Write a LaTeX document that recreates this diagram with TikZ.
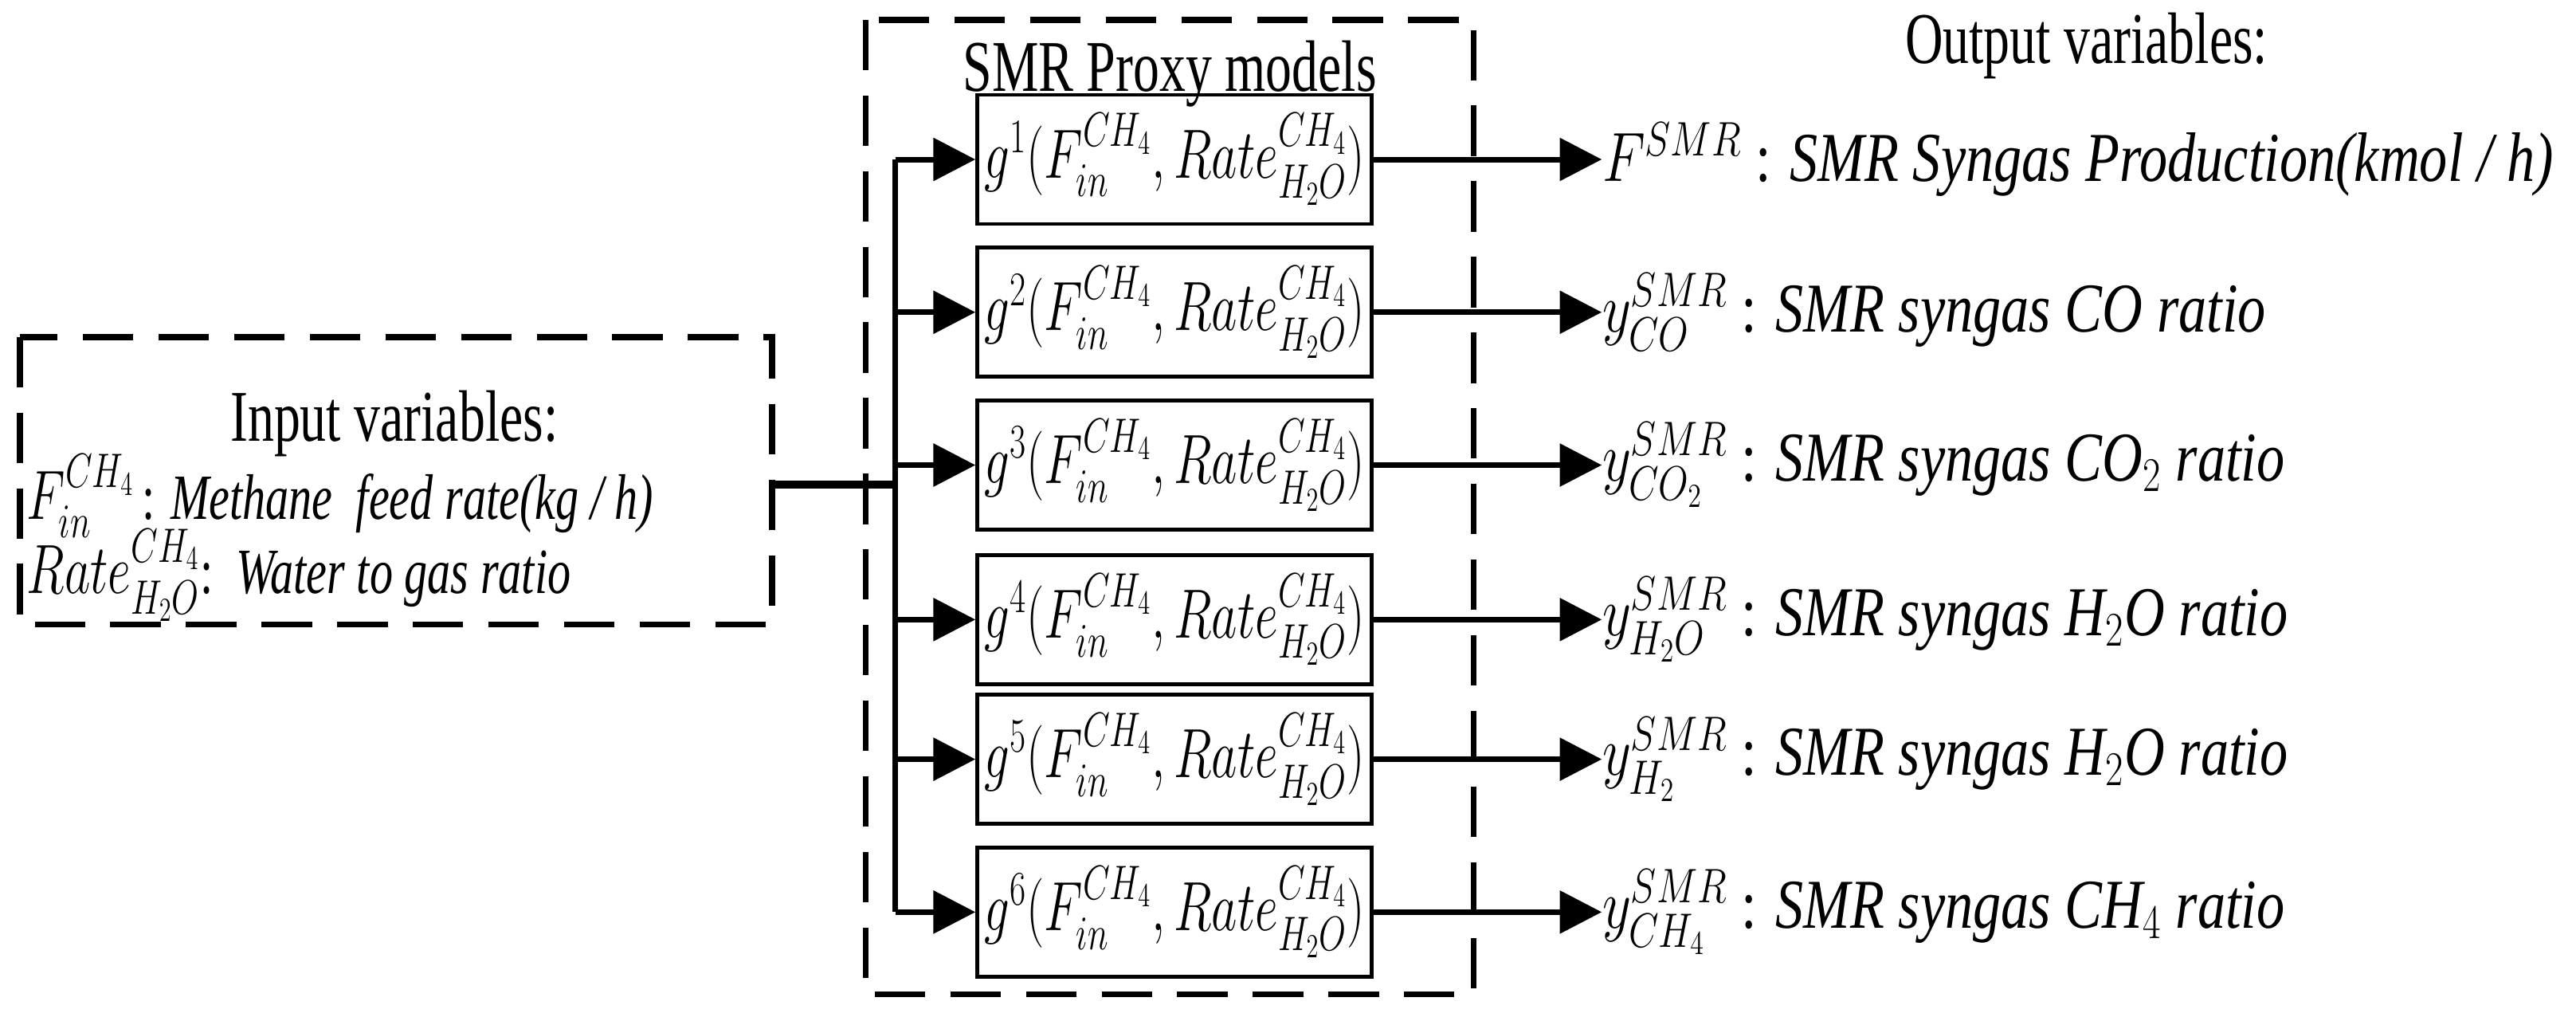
\documentclass[tikz,border=0pt]{standalone}
\usepackage{amsmath}
\usepackage{fontspec}
\setmainfont{Liberation Serif}
\usepackage{tikz}
\usetikzlibrary{arrows.meta}
\newcommand{\nar}[1]{\scalebox{0.72}[1]{#1}}
\newcommand{\gin}{(F_{in}^{CH_4},Rate_{H_2O}^{CH_4})}
\begin{document}
\begin{tikzpicture}[
        x=0.02062cm, y=-0.02062cm,
        frame/.style={draw, dash pattern=on 18pt off 9pt, line width=2.2pt},
        box/.style={rectangle, draw, line width=1.4pt, minimum width=4.95cm, minimum height=1.62cm, inner sep=0pt},
        lbl/.style={anchor=west, inner sep=0pt, font=\fontsize{25}{28}\selectfont},
        ttl/.style={font=\fontsize{26}{29}\selectfont},
        arrow/.style={-{Triangle[length=15pt,width=15pt]}, line width=2pt}
    ]
        \useasboundingbox (0,0) rectangle (1568,621);
        \fontsize{24}{27}\selectfont
        % Input frame
        \draw[frame] (12,205) rectangle (470,380);
        \node[ttl] (intitle) at (240,258) {\nar{Input variables:}};
        \node[lbl, font=\fontsize{23}{26}\selectfont] (fin) at (16,302) {\nar{$F_{in}^{CH_4}$\,: \textit{Methane\ \ feed rate(kg / h)}}};
        \node[lbl, font=\fontsize{23}{26}\selectfont] (rate) at (16,350) {\nar{$Rate_{H_2O}^{CH_4}$:\ \ \textit{Water to gas ratio}}};
        \coordinate (inR) at (470,295);

        % SMR frame
        \draw[frame] (527,12) rectangle (897,605);
        \node[ttl] (smrtitle) at (712,45) {\nar{SMR Proxy models}};
        \node[ttl] (outtitle) at (1270,28) {\nar{Output variables:}};
        \coordinate (bus) at (545,295);
        \coordinate (bustop) at (545,97);
        \coordinate (busbot) at (545,555);
        \draw[line width=2.8pt] (inR) -- (bus);
        \draw[line width=2pt] (bustop) -- (busbot);

        % proxy models and outputs
        \foreach \i/\yy/\out in {%
            1/97/{$F^{SMR}$\ : \textit{SMR Syngas Production(kmol / h)}},
            2/190/{$y_{CO}^{SMR}$\ : \textit{SMR syngas CO ratio}},
            3/283/{$y_{CO_2}^{SMR}$\ : \textit{SMR syngas CO$_2$ ratio}},
            4/377/{$y_{H_2O}^{SMR}$\ : \textit{SMR syngas H$_2$O ratio}},
            5/462/{$y_{H_2}^{SMR}$\ : \textit{SMR syngas H$_2$O ratio}},
            6/555/{$y_{CH_4}^{SMR}$\ : \textit{SMR syngas CH$_4$ ratio}}} {
            \node[box] (g\i) at (715,\yy) {\nar{$g^{\i}\gin$}};
            \coordinate (b\i) at (545,\yy);
            \node[lbl] (o\i) at (975,\yy) {\scalebox{0.8}[1]{\out}};
            \draw[arrow] (b\i) -- (g\i);
            \draw[arrow] (g\i) -- (o\i);
        }
    \end{tikzpicture}
\end{document}
